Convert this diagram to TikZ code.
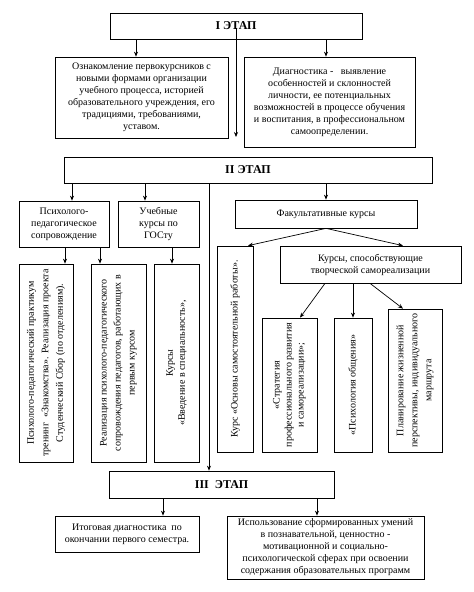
\documentclass[tikz,border=0pt]{standalone}
\usepackage{fontspec}
\setmainfont{Liberation Serif}
\usetikzlibrary{arrows.meta}
\begin{document}
\begin{tikzpicture}[x=1pt,y=-1pt,
  box/.style={draw, line width=0.7pt, inner sep=0pt, align=center, font=\fontsize{10}{12}\selectfont},
  titlebox/.style={box, font=\fontsize{12}{14}\selectfont\bfseries},
  vbox/.style={box, rotate=90},
  arr/.style={-{Stealth[length=5pt,width=4pt]}, line width=0.7pt}]
\useasboundingbox (0,0) rectangle (474,592);
% Stage I
\node[titlebox, minimum width=252pt, minimum height=26pt] (I) at (236,26) {I ЭТАП};
\node[box, minimum width=173pt, minimum height=81pt] (L1) at (141.5,97.5)
  {Ознакомление первокурсников с\\новыми формами организации\\учебного процесса, историей\\образовательного учреждения, его\\традициями, требованиями,\\уставом.};
\node[box, minimum width=171pt, minimum height=90pt] (R1) at (329.5,102)
  {Диагностика -\ \ \ выявление\\особенностей и склонностей\\личности, ее потенциальных\\возможностей в процессе обучения\\и воспитания, в профессиональном\\самоопределении.};
% Stage II
\node[titlebox, minimum width=368pt, minimum height=26pt] (II) at (248,170) {II ЭТАП};
\node[box, minimum width=90pt, minimum height=46pt] (P) at (64,224) {Психолого-\\педагогическое\\сопровождение};
\node[box, minimum width=81pt, minimum height=46pt] (U) at (158.5,224) {Учебные\\курсы по\\ГОСту};
\node[box, minimum width=182pt, minimum height=28pt] (F) at (326,214) {Факультативные курсы};
\node[vbox, font=\fontsize{10}{14.5}\selectfont, minimum width=198pt, minimum height=54pt] (A) at (46,363)
  {Психолого-педагогический практикум\\тренинг \ «Знакомства». Реализация проекта\\Студенческий Сбор (по отделениям).};
\node[vbox, font=\fontsize{10}{14}\selectfont, minimum width=198pt, minimum height=55pt] (B) at (118.5,363)
  {Реализация психолого-педагогического\\сопровождения педагогов, работающих в\\первым курсом};
\node[vbox, minimum width=198pt, minimum height=45pt] (C) at (176.5,363)
  {Курсы\\«Введение в специальность»,};
\node[vbox, minimum width=206pt, minimum height=36pt] (K) at (235,349)
  {Курс «Основы самостоятельной работы».};
\node[box, minimum width=181pt, minimum height=37pt] (S) at (370.5,264.5)
  {Курсы, способствующие\\творческой самореализации};
\node[vbox, minimum width=134pt, minimum height=55pt] (S1) at (289.5,385)
  {«Стратегия\\профессионального развития\\и самореализации»;};
\node[vbox, minimum width=134pt, minimum height=38pt] (S2) at (353,385)
  {«Психология общения»};
\node[vbox, font=\fontsize{10}{14}\selectfont, minimum width=143pt, minimum height=54pt] (S3) at (415,380.5)
  {Планирование жизненной\\перспективы, индивидуального\\маршрута};
% Stage III
\node[titlebox, minimum width=225pt, minimum height=27pt] (III) at (221.5,484.5) {III\ \ ЭТАП};
\node[box, minimum width=144pt, minimum height=36pt] (B1) at (127,534)
  {Итоговая диагностика\ \ по\\окончании первого семестра.};
\node[box, minimum width=197pt, minimum height=63pt] (B2) at (325.5,547.5)
  {Использование сформированных умений\\в познавательной, ценностно -\\мотивационной и социально-\\психологической сферах при освоении\\содержания образовательных программ};
% helper coordinates
\coordinate (xa) at (136,0);
\coordinate (xb) at (326,0);
\coordinate (vs) at (236,28);
\coordinate (ve) at (236,137);
\coordinate (xc) at (72,0);
\coordinate (xd) at (145,0);
\coordinate (xe) at (209,0);
\coordinate (xf) at (65,0);
\coordinate (xg) at (100,0);
\coordinate (xh) at (172,0);
\coordinate (xk) at (248,0);
\coordinate (xs) at (403,0);
\coordinate (xm) at (325,0);
\coordinate (xn) at (300,0);
\coordinate (xo) at (370,0);
\coordinate (xq) at (163,0);
\coordinate (xr) at (317,0);
% connectors
\draw[arr] (I.south -| xa) -- (L1.north -| xa);
\draw[arr] (I.south -| xb) -- (R1.north -| xb);
\draw[arr] (vs) -- (ve);
\draw[arr] (II.south -| xc) -- (P.north -| xc);
\draw[arr] (II.south -| xd) -- (U.north -| xd);
\draw[arr] (II.south -| F.north) -- (F.north);
\draw[arr] (II.south -| xe) -- (III.north -| xe);
\draw[arr] (P.south -| xf) -- (xf |- A.east);
\draw[arr] (P.south -| xg) -- (xg |- B.east);
\draw[arr] (U.south -| xh) -- (xh |- C.east);
\draw[arr] (F.south) -- (xk |- K.east);
\draw[arr] (F.south) -- (S.north -| xs);
\draw[arr] (S.south -| xm) -- (xn |- S1.east);
\draw[arr] (S2.east |- S.south) -- (S2.east);
\draw[arr] (S.south -| xo) -- (xs |- S3.east);
\draw[arr] (III.south -| xq) -- (B1.north -| xq);
\draw[arr] (III.south -| xr) -- (B2.north -| xr);
\end{tikzpicture}
\end{document}
